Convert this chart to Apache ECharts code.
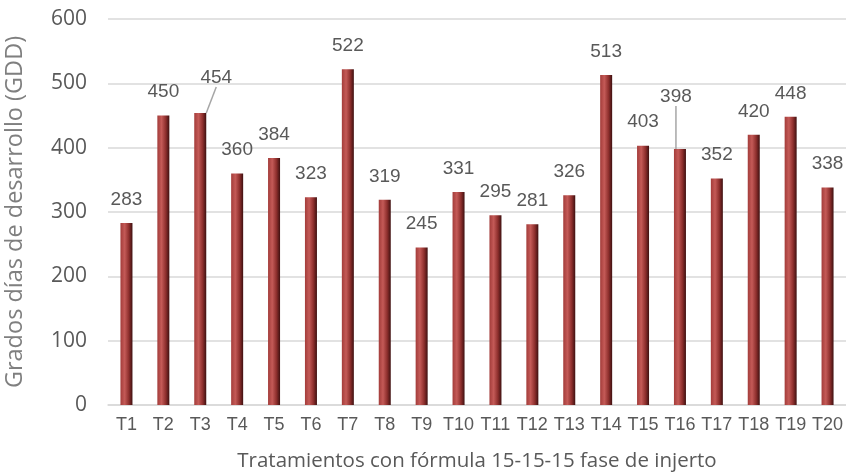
<!DOCTYPE html>
<html><head><meta charset="utf-8">
<script src="https://cdn.jsdelivr.net/npm/echarts@6/dist/echarts.min.js"></script>
<style>html,body{margin:0;padding:0;background:#fff}#c{width:846px;height:476px}</style>
</head><body><div id="c"></div>
<script>
const categories = ['T1','T2','T3','T4','T5','T6','T7','T8','T9','T10','T11','T12','T13','T14','T15','T16','T17','T18','T19','T20'];
const values = [283,450,454,360,384,323,522,319,245,331,295,281,326,513,403,398,352,420,448,338];
const yTicks = [0,100,200,300,400,500,600];
const yTitle = 'Grados días de desarrollo (GDD)';
const xTitle = 'Tratamientos con fórmula 15-15-15 fase de injerto';

const chart = echarts.init(document.getElementById('c'));
const barColor = new echarts.graphic.LinearGradient(0,0,1,0,[
  {offset:0,color:'#a33c3a'},{offset:0.35,color:'#c45a57'},{offset:0.7,color:'#8e2f2d'},{offset:1,color:'#3e1010'}
]);
const moved = {2:{dx:16,dy:-12},15:{dx:-4,dy:-29}};
const seriesData = values.map((v,i)=> moved[i] ? {value:v,labelLine:{show:true}} : {value:v});
chart.setOption({
  animation:false,
  grid:{left:108,right:0,top:19,bottom:71,outerBoundsMode:'none',containLabel:false},
  xAxis:{type:'category',data:categories,
    axisLine:{lineStyle:{color:'#d9d9d9',width:1.5}},axisTick:{show:false},
    axisLabel:{interval:0,color:'#595959',fontSize:18,fontFamily:'Liberation Sans Narrow, sans-serif',margin:11},
    name:xTitle,nameLocation:'middle',nameGap:46,
    nameTextStyle:{color:'#595959',fontSize:20.5,fontFamily:'Open Sans, sans-serif'}},
  yAxis:{type:'value',min:yTicks[0],max:yTicks[yTicks.length-1],interval:100,
    axisLine:{show:false},axisTick:{show:false},
    splitLine:{lineStyle:{color:'#d9d9d9',width:1.5}},
    axisLabel:{color:'#595959',fontSize:21,fontFamily:'Open Sans, sans-serif',margin:21},
    name:yTitle,nameLocation:'middle',nameGap:81,nameRotate:90,
    nameTextStyle:{color:'#7f7f7f',fontSize:23.5,fontFamily:'Open Sans, sans-serif'}},
  series:[{type:'bar',data:seriesData,barWidth:12,
    itemStyle:{color:barColor},
    label:{show:true,position:'top',distance:14,color:'#595959',fontSize:19,fontFamily:'Liberation Sans, Arial, sans-serif'},
    labelLine:{show:false,lineStyle:{color:'#a6a6a6',width:1.5}},
    labelLayout:function(p){
      const m = moved[p.dataIndex];
      return m ? {dx:m.dx,dy:m.dy} : {};
    }
  }]
});
</script></body></html>
